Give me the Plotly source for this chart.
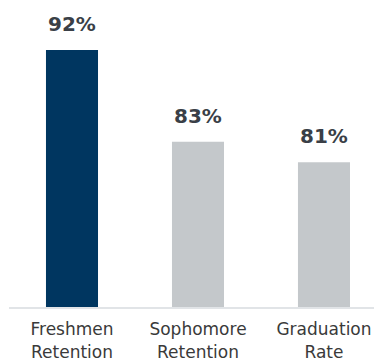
import plotly.graph_objects as go

categories = ["Freshmen<br>Retention", "Sophomore<br>Retention", "Graduation<br>Rate"]
values = [92, 83, 81]
labels = ["92%", "83%", "81%"]
bar_colors = ["#003660", "#c4c8cb", "#c4c8cb"]

fig = go.Figure()
fig.add_trace(go.Bar(x=categories, y=values, marker=dict(color=bar_colors, line=dict(width=0)),
                     hoverinfo="skip"))

# value labels sit above each bar
for c, v, t in zip(categories, values, labels):
    fig.add_annotation(x=c, y=v, text=f"<b>{t}</b>", showarrow=False, yanchor="bottom",
                       yshift=12, font=dict(family="DejaVu Sans", size=20, color="#3a3f47"))

fig.update_layout(
    width=374, height=362,
    margin=dict(l=9, r=0, t=0, b=55),
    plot_bgcolor="white", paper_bgcolor="white",
    bargap=0.587, showlegend=False,
    xaxis=dict(range=[-0.5, 2.397], showline=True, linecolor="#e1e4e7", linewidth=2,
               ticks="", showgrid=False, automargin=False, ticklabelstandoff=6,
               tickfont=dict(family="DejaVu Sans", size=17, color="#3a3a3a")),
    yaxis=dict(range=[66.8, 96.9], visible=False, showgrid=False, zeroline=False),
)

fig.write_html("out.html", config={"displayModeBar": False},
               post_script="document.body.style.margin='0';")
